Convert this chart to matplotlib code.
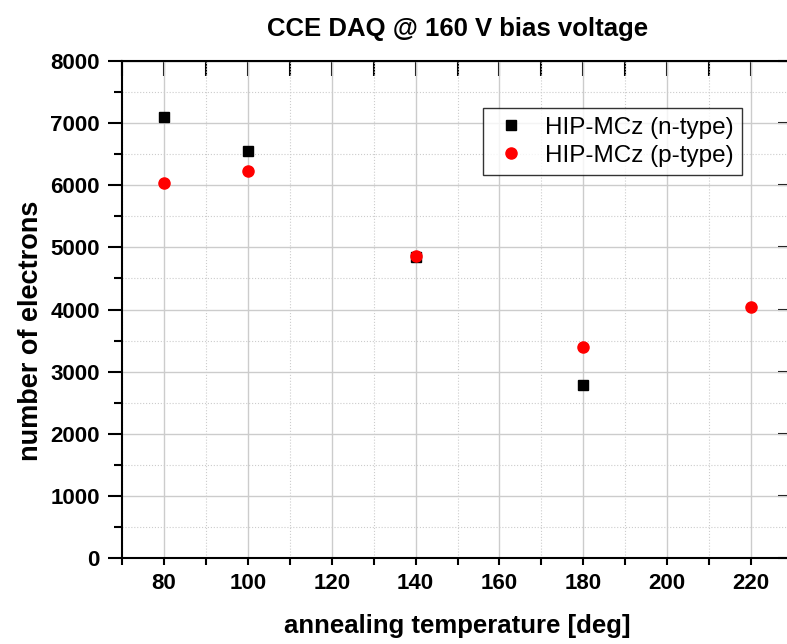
import matplotlib.pyplot as plt
from matplotlib.ticker import MultipleLocator

# data
temp_n = [80, 100, 140, 180]
electrons_n = [7100, 6550, 4840, 2780]
temp_p = [80, 100, 140, 180, 220]
electrons_p = [6035, 6235, 4865, 3390, 4045]

plt.rcParams['font.family'] = ['Liberation Sans', 'DejaVu Sans']

fig = plt.figure(figsize=(7.87, 6.44), dpi=100)
# axes from x=122 to 793 px (right edge is cropped like the original), y=61 to 558 px
ax = fig.add_axes([122 / 787, 1 - 558 / 644, 671 / 787, 497 / 644])

ax.plot(temp_n, electrons_n, 's', color='black', markersize=7.2,
        label='HIP-MCz (n-type)', zorder=3)
ax.plot(temp_p, electrons_p, 'o', color='red', markersize=8,
        label='HIP-MCz (p-type)', zorder=3)

ax.set_xlim(70, 230)
ax.set_ylim(0, 8000)
ax.xaxis.set_major_locator(MultipleLocator(20))
ax.xaxis.set_minor_locator(MultipleLocator(10))
ax.yaxis.set_major_locator(MultipleLocator(1000))
ax.yaxis.set_minor_locator(MultipleLocator(500))

ax.grid(which='major', color='#cccccc', linewidth=1.0, linestyle='-')
ax.grid(which='minor', color='#cccccc', linewidth=0.8, linestyle=':')
ax.set_axisbelow(True)

for s in ax.spines.values():
    s.set_linewidth(1.5)

ax.tick_params(axis='x', which='both', direction='out', length=5, width=1.5)
ax.tick_params(axis='y', which='major', direction='out', length=10, width=1.5)
ax.tick_params(axis='y', which='minor', direction='out', length=6, width=1.5)
ax.tick_params(labelsize=16, pad=6)
for lab in ax.get_xticklabels() + ax.get_yticklabels():
    lab.set_fontweight('bold')

# top and right ticks point inward, no labels
top = ax.secondary_xaxis('top')
top.xaxis.set_major_locator(MultipleLocator(10))
top.tick_params(direction='in', length=11, width=1.5, labeltop=False)
right = ax.secondary_yaxis('right')
right.yaxis.set_major_locator(MultipleLocator(1000))
right.tick_params(direction='in', length=11, width=1.5, labelright=False)

ax.set_xlabel('annealing temperature [deg]', fontsize=18.5, fontweight='bold',
              labelpad=14)
ax.set_ylabel('number of electrons', fontsize=19.5, fontweight='bold')
ax.yaxis.set_label_coords((44 - 122) / 671, (558 - 331) / 497)
ax.set_title('CCE DAQ @ 160 V bias voltage', fontsize=18.5, fontweight='bold',
             pad=18)

leg = ax.legend(loc='upper left', bbox_to_anchor=((483 - 122) / 671, 1 - (108 - 61) / 497),
                fontsize=17.5, frameon=True, fancybox=False, edgecolor='black',
                borderpad=0.35, handletextpad=0.6, labelspacing=0.25,
                handlelength=1.6, borderaxespad=0)
leg.get_frame().set_linewidth(1.0)

plt.savefig('out.png', dpi=100)
